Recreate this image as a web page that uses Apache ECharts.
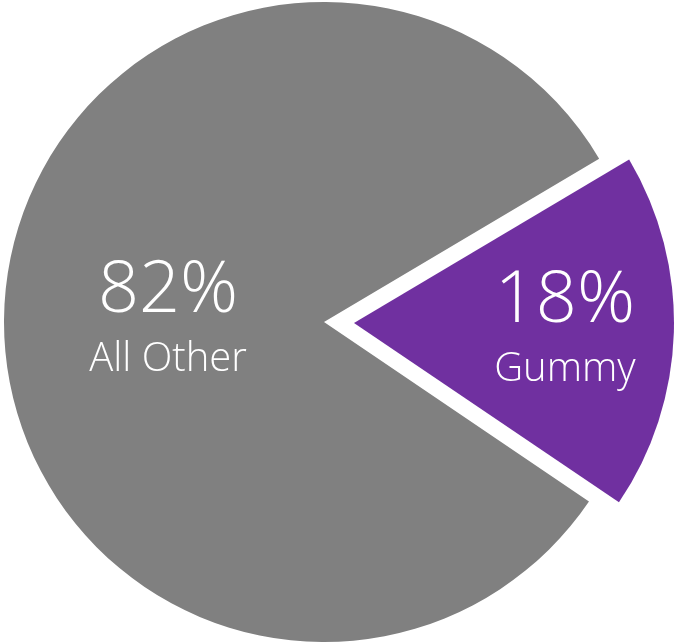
<!DOCTYPE html>
<html>
<head>
<meta charset="utf-8">
<script src="https://cdn.jsdelivr.net/npm/echarts@6/dist/echarts.min.js"></script>
<style>
html,body{margin:0;padding:0;background:#fff;}
#c{width:677px;height:643px;}
</style>
</head>
<body>
<div id="c"></div>
<script>
const categories = ['Gummy', 'All Other'];
const values = [18, 82];
const colors = ['#7030A0', '#808080'];
const explodedIndex = 0;

const chart = echarts.init(document.getElementById('c'), null, {renderer: 'canvas'});
const data = categories.map((name, i) => ({
  name: name,
  value: values[i],
  selected: i === explodedIndex,
  itemStyle: {color: colors[i]}
}));

const FONT = '"Open Sans", Lato, "Noto Sans", sans-serif';

chart.setOption({
  backgroundColor: '#ffffff',
  animation: false,
  series: [{
    type: 'pie',
    center: [324, 322],
    radius: [0, 320],
    startAngle: 30.7,
    clockwise: true,
    selectedMode: 'single',
    selectedOffset: 30,
    avoidLabelOverlap: false,
    itemStyle: {borderWidth: 0},
    emphasis: {disabled: true},
    label: {
      show: true,
      position: 'inside',
      color: '#ffffff',
      fontFamily: FONT,
      formatter: (p) => '{p|' + p.value + '%}\n{n|' + p.name + '}',
      rich: {
        p: {fontSize: 72, fontWeight: 300, lineHeight: 80, color: '#fff', fontFamily: FONT},
        n: {fontSize: 40, fontWeight: 300, lineHeight: 56, color: '#fff', fontFamily: FONT}
      }
    },
    labelLine: {show: false},
    labelLayout: (params) => params.dataIndex === 0 ? {dx: 48, dy: 2} : {dx: 7, dy: 2},
    data: data
  }]
});
</script>
</body>
</html>
